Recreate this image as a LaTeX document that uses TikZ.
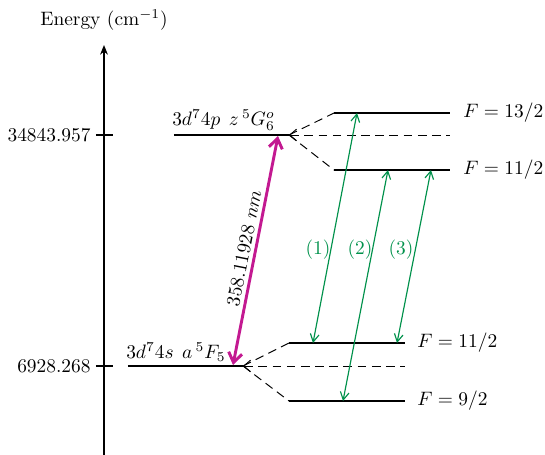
\documentclass[tikz,border=0pt]{standalone}
\usetikzlibrary{arrows.meta}
\definecolor{lvgreen}{RGB}{0,145,75}
\definecolor{lvmag}{RGB}{195,25,145}
\begin{document}
\begin{tikzpicture}[x=0.515pt,y=-0.515pt,
  level/.style={line width=0.6pt},
  split/.style={dash pattern=on 4.5pt off 2.8pt,line width=0.5pt},
  trans/.style={lvgreen,line width=0.6pt,{Straight Barb[length=4pt,width=4.5pt]}-{Straight Barb[length=4pt,width=4.5pt]}},
  laser/.style={lvmag,line width=1.5pt,{Straight Barb[length=5pt,width=7pt]}-{Straight Barb[length=5pt,width=7pt]}},
  flabel/.style={anchor=west,inner sep=0pt},
  nlabel/.style={lvgreen,inner sep=1pt}]
\useasboundingbox (0,0) rectangle (545,455);
% axis
\coordinate (ax0) at (104,455);
\coordinate (ax1) at (104,45);
\draw[line width=0.6pt,-{Stealth[length=5pt,width=4pt]}] (ax0) -- (ax1);
\node (elab) at (104,20) {Energy (cm$^{-1}$)};
\coordinate (tu0) at (96,135); \coordinate (tu1) at (113,135);
\coordinate (tl0) at (96,366); \coordinate (tl1) at (113,366);
\draw[line width=0.6pt] (tu0) -- (tu1);
\draw[line width=0.6pt] (tl0) -- (tl1);
\node[anchor=east,inner sep=0pt] (eu) at (91,135) {34843.957};
\node[anchor=east,inner sep=0pt] (el) at (91,366) {6928.268};
% upper level
\coordinate (U0) at (174,135); \coordinate (Uj) at (289,135); \coordinate (Ue) at (450,135);
\draw[level] (U0) -- (Uj);
\node[anchor=south west,inner sep=2pt] (ulab) at (168,135) {$3d^74p\;\,z\,{}^5G^o_6$};
\coordinate (Ut0) at (334,113); \coordinate (Ut1) at (450,113);
\coordinate (Ub0) at (334,170); \coordinate (Ub1) at (450,170);
\draw[split] (Uj) -- (Ut0);
\draw[split] (Uj) -- (Ub0);
\draw[split,{Straight Barb[length=3.5pt,width=6pt]}-] (Uj) -- (Ue);
\draw[level] (Ut0) -- (Ut1);
\draw[level] (Ub0) -- (Ub1);
\node[flabel] (f1) at (463,113) {$F=13/2$};
\node[flabel] (f2) at (463,170) {$F=11/2$};
% lower level
\coordinate (L0) at (128,366); \coordinate (Lj) at (243,366); \coordinate (Le) at (405,366);
\draw[level] (L0) -- (Lj);
\node[anchor=south west,inner sep=2pt] (llab) at (122,366) {$3d^74s\;\,a\,{}^5F_5$};
\coordinate (Lt0) at (289,343); \coordinate (Lt1) at (405,343);
\coordinate (Lb0) at (289,401); \coordinate (Lb1) at (405,401);
\draw[split] (Lj) -- (Lt0);
\draw[split] (Lj) -- (Lb0);
\draw[split,{Straight Barb[length=3.5pt,width=6pt]}-] (Lj) -- (Le);
\draw[level] (Lt0) -- (Lt1);
\draw[level] (Lb0) -- (Lb1);
\node[flabel] (f3) at (417,343) {$F=11/2$};
\node[flabel] (f4) at (417,401) {$F=9/2$};
% laser transition
\coordinate (m0) at (233,365); \coordinate (m1) at (278,136);
\draw[laser] (m0) -- node[midway,sloped,above,black,inner sep=2pt] (mlab) {$358.11928\ nm$} (m1);
% hyperfine transitions
\coordinate (a0) at (313,343); \coordinate (a1) at (357,113);
\coordinate (b0) at (343,401); \coordinate (b1) at (388,170);
\coordinate (c0) at (397,343); \coordinate (c1) at (431,170);
\draw[trans] (a0) -- (a1);
\draw[trans] (b0) -- (b1);
\draw[trans] (c0) -- (c1);
\node[nlabel] (n1) at (318,250) {(1)};
\node[nlabel] (n2) at (360,250) {(2)};
\node[nlabel] (n3) at (401,250) {(3)};
\end{tikzpicture}
\end{document}
